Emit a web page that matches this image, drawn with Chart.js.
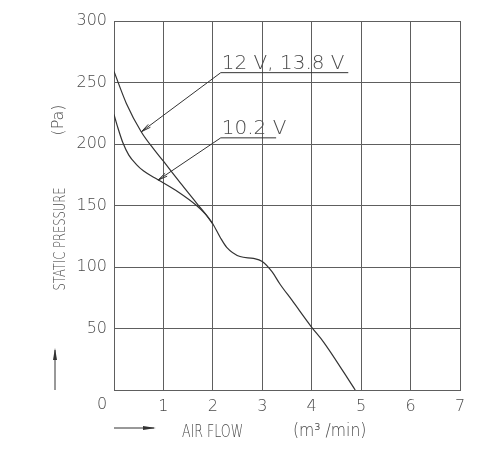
<!DOCTYPE html>
<html>
<head>
<meta charset="utf-8">
<script src="https://cdn.jsdelivr.net/npm/chart.js@4"></script>
<style>
  html, body { margin: 0; padding: 0; background: #fff; }
  canvas { display: block; }
</style>
</head>
<body>
<canvas id="pq" width="500" height="450"></canvas>
<script>
// fan P-Q curves
const flow12 = [0, 0.25, 0.55, 0.82, 1.0, 1.35, 1.67, 2.0, 2.15, 2.28, 2.55, 2.82, 3.0, 3.2, 3.36, 3.6, 4.0, 4.24, 4.88];
const pressure12 = [259, 233, 210, 195, 186, 168, 152, 135, 124, 116, 108.5, 107, 104.5, 96, 86, 73, 51, 39, 0];

const flow102 = [0, 0.08, 0.18, 0.3, 0.45, 0.6, 0.89, 1.3, 1.67, 1.85, 2.0];
const pressure102 = [224, 213, 201, 191, 183.5, 178, 171, 161, 150, 143, 135];

const flowTicks = [0, 1, 2, 3, 4, 5, 6, 7];
const pressureTicks = [0, 50, 100, 150, 200, 250, 300];

// callouts: text, where the leader starts (data units), end of underline, arrow tip
const calloutText = ['12 V, 13.8 V', '10.2 V'];
const calloutStart = [[2.16, 258], [2.16, 205]];
const calloutEnd = [4.74, 3.28];
const calloutTip = [[0.555, 210], [0.89, 170.6]];

const FONT = '"DejaVu Sans", sans-serif';
const INK = '#333';
const TEXT = '#4a4a4a';
const GRID = '#5e5e5e';

function toPoints(xs, ys) {
  return xs.map((x, i) => ({ x: x, y: ys[i] }));
}

function arrowHead(ctx, x0, y0, x1, y1, len, spread) {
  // open arrowhead at (x1,y1), pointing from (x0,y0)
  const a = Math.atan2(y1 - y0, x1 - x0);
  ctx.beginPath();
  ctx.moveTo(x1 - len * Math.cos(a - spread), y1 - len * Math.sin(a - spread));
  ctx.lineTo(x1, y1);
  ctx.lineTo(x1 - len * Math.cos(a + spread), y1 - len * Math.sin(a + spread));
  ctx.stroke();
}

// narrow text, squeezed along its own direction
function narrowText(ctx, text, x, y, squeeze) {
  ctx.save();
  ctx.translate(x, y);
  ctx.scale(squeeze, 1);
  ctx.fillText(text, 0, 0);
  ctx.restore();
}

const extras = {
  id: 'extras',
  afterDraw(chart) {
    const { ctx, chartArea: area, scales: { x, y } } = chart;
    ctx.save();

    // callouts with leaders
    ctx.strokeStyle = INK;
    ctx.lineWidth = 1;
    ctx.fillStyle = TEXT;
    ctx.font = '200 20px ' + FONT;
    ctx.textBaseline = 'alphabetic';
    ctx.textAlign = 'left';
    calloutText.forEach((t, i) => {
      const sx = x.getPixelForValue(calloutStart[i][0]);
      const sy = y.getPixelForValue(calloutStart[i][1]);
      const ex = x.getPixelForValue(calloutEnd[i]);
      const tx = x.getPixelForValue(calloutTip[i][0]);
      const ty = y.getPixelForValue(calloutTip[i][1]);
      ctx.beginPath();
      ctx.moveTo(ex, sy);
      ctx.lineTo(sx, sy);
      ctx.lineTo(tx, ty);
      ctx.stroke();
      arrowHead(ctx, sx, sy, tx, ty, 10, 0.18);
      ctx.fillText(t, sx + 1, sy - 4);
    });

    // origin "0"
    ctx.font = '200 16px ' + FONT;
    ctx.textAlign = 'center';
    ctx.textBaseline = 'middle';
    ctx.fillText('0', area.left - 12, area.bottom + 15);

    // y axis title, rotated
    ctx.save();
    ctx.translate(65, 0);
    ctx.rotate(-Math.PI / 2);
    ctx.textAlign = 'center';
    ctx.textBaseline = 'alphabetic';
    ctx.font = '200 16px ' + FONT;
    narrowText(ctx, 'STATIC PRESSURE', -239, 0, 0.72);
    ctx.font = '200 16px ' + FONT;
    ctx.fillText('(Pa)', -120, -2);
    ctx.restore();

    // up arrow
    ctx.beginPath();
    ctx.moveTo(55, area.bottom);
    ctx.lineTo(55, 350);
    ctx.stroke();
    ctx.fillStyle = INK;
    ctx.beginPath();
    ctx.moveTo(55, 348);
    ctx.lineTo(53, 360);
    ctx.lineTo(57, 360);
    ctx.closePath();
    ctx.fill();

    // right arrow + x title
    ctx.beginPath();
    ctx.moveTo(area.left, 428);
    ctx.lineTo(154, 428);
    ctx.stroke();
    ctx.beginPath();
    ctx.moveTo(156, 428);
    ctx.lineTo(143, 426);
    ctx.lineTo(143, 430);
    ctx.closePath();
    ctx.fill();

    ctx.fillStyle = TEXT;
    ctx.textAlign = 'left';
    ctx.textBaseline = 'alphabetic';
    ctx.font = '200 17px ' + FONT;
    narrowText(ctx, 'AIR FLOW', 182, 437, 0.74);
    ctx.font = '200 17px ' + FONT;
    narrowText(ctx, '(m\u00B3 /min)', 293, 436, 0.92);

    ctx.restore();
  }
};

const lineStyle = {
  borderColor: INK,
  borderWidth: 1.2,
  pointRadius: 0,
  showLine: true,
  fill: false,
  cubicInterpolationMode: 'monotone'
};

new Chart(document.getElementById('pq'), {
  type: 'scatter',
  data: {
    datasets: [
      Object.assign({ label: '12 V, 13.8 V', data: toPoints(flow12, pressure12) }, lineStyle),
      Object.assign({ label: '10.2 V', data: toPoints(flow102, pressure102) }, lineStyle)
    ]
  },
  options: {
    responsive: false,
    animation: false,
    layout: { padding: { top: 21, right: 40, left: 0, bottom: 0 } },
    plugins: {
      legend: { display: false },
      tooltip: { enabled: false }
    },
    scales: {
      x: {
        type: 'linear',
        min: 0,
        max: 7,
        afterBuildTicks: s => { s.ticks = flowTicks.map(v => ({ value: v })); },
        afterFit: s => { s.height = 60; },
        grid: { color: GRID, lineWidth: 1, drawTicks: false },
        border: { color: GRID, width: 1 },
        ticks: {
          color: TEXT,
          padding: 7,
          maxRotation: 0,
          font: { family: FONT, size: 16, weight: 200 },
          callback: v => (v === 0 ? '' : v)
        }
      },
      y: {
        type: 'linear',
        min: 0,
        max: 300,
        afterBuildTicks: s => { s.ticks = pressureTicks.map(v => ({ value: v })); },
        afterFit: s => { s.width = 114; },
        grid: { color: GRID, lineWidth: 1, drawTicks: false },
        border: { color: GRID, width: 1 },
        ticks: {
          color: TEXT,
          padding: 7,
          font: { family: FONT, size: 16, weight: 200 },
          callback: v => (v === 0 ? '' : v)
        }
      }
    }
  },
  plugins: [extras]
});
</script>
</body>
</html>
